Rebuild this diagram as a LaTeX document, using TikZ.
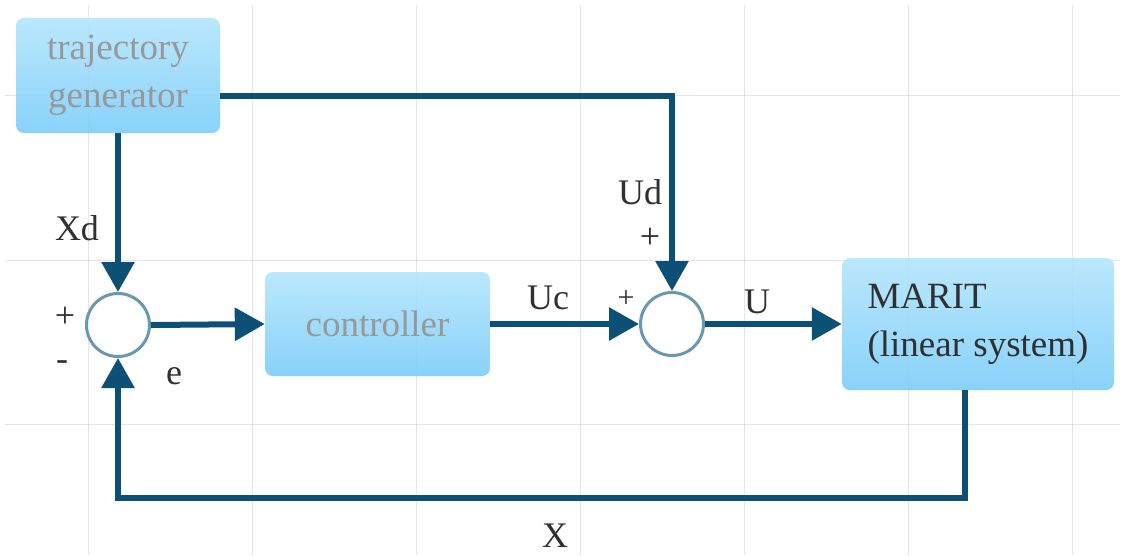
\documentclass[tikz,border=0pt]{standalone}
\usepackage{fontspec}
\setmainfont{Liberation Serif}
\usetikzlibrary{arrows.meta}
\definecolor{flowblue}{RGB}{12,80,118}
\definecolor{ringblue}{RGB}{104,152,176}
\definecolor{boxtop}{RGB}{180,230,252}
\definecolor{boxbot}{RGB}{124,205,250}
\definecolor{gridgray}{RGB}{0,0,0}
\definecolor{inkgray}{RGB}{152,152,152}
\definecolor{inkdark}{RGB}{48,48,48}

\begin{document}
\begin{tikzpicture}[
  x=1pt,y=-1pt,
  block/.style={rectangle,rounded corners=8pt,top color=boxtop,bottom color=boxbot,
    fill opacity=0.9,text opacity=1,draw=none,align=center,
    font=\fontsize{37}{48}\selectfont,text=inkgray},
  sumpt/.style={circle,draw=ringblue,line width=3pt,fill=white,minimum size=63pt,inner sep=0pt},
  flow/.style={draw=flowblue,line width=6pt,-{Triangle[length=30pt,width=32pt]}},
  tag/.style={font=\fontsize{36}{40}\selectfont,text=inkdark,inner sep=0pt}
]
  \useasboundingbox (0,0) rectangle (1124,555);
  \fill[white] (0,0) rectangle (1124,555);
  \foreach \gx in {88,252,416,580,744,908,1072}
    \draw[gridgray,opacity=0.1,line width=1pt] (\gx,5) -- (\gx,555);
  \foreach \gy in {95,260,424}
    \draw[gridgray,opacity=0.1,line width=1pt] (5,\gy) -- (1120,\gy);

  \node[block,minimum width=204pt,minimum height=115pt] (traj) at (118,75.5) {trajectory\\generator};
  \node[block,minimum width=225pt,minimum height=104pt] (ctrl) at (377.5,324) {controller};
  \node[block,minimum width=272pt,minimum height=132pt,align=left,text=inkdark] (sys) at (978,324) {MARIT\\(linear system)};
  \node[sumpt] (sum1) at (118,325) {};
  \node[sumpt] (sum2) at (672,324) {};

  \draw[flow] ([yshift=-20.5pt]traj.east) -| (sum2.north);
  \draw[flow] (traj.south) -- (sum1.north);
  \draw[flow] (sum1.east) -- (ctrl.west);
  \draw[flow] (ctrl.east) -- (sum2.west);
  \draw[flow] (sum2.east) -- (sys.west);
  \draw[flow] ([xshift=-13pt]sys.south) -- ++(0,108) -| (sum1.south);

  \node[tag] (xd) at (77,228) {Xd};
  \node[tag] (plusa) at (65,317) {+};
  \node[tag] (minusa) at (62,366) {-};
  \node[tag] (err) at (174,376) {e};
  \node[tag] (uc) at (548,298) {Uc};
  \node[tag,font=\fontsize{30}{34}\selectfont] (plusb) at (626,299) {+};
  \node[tag] (ud) at (640,192) {Ud};
  \node[tag] (plusc) at (650,238) {+};
  \node[tag] (u) at (757,302) {U};
  \node[tag] (x) at (555,536) {X};
\end{tikzpicture}
\end{document}
